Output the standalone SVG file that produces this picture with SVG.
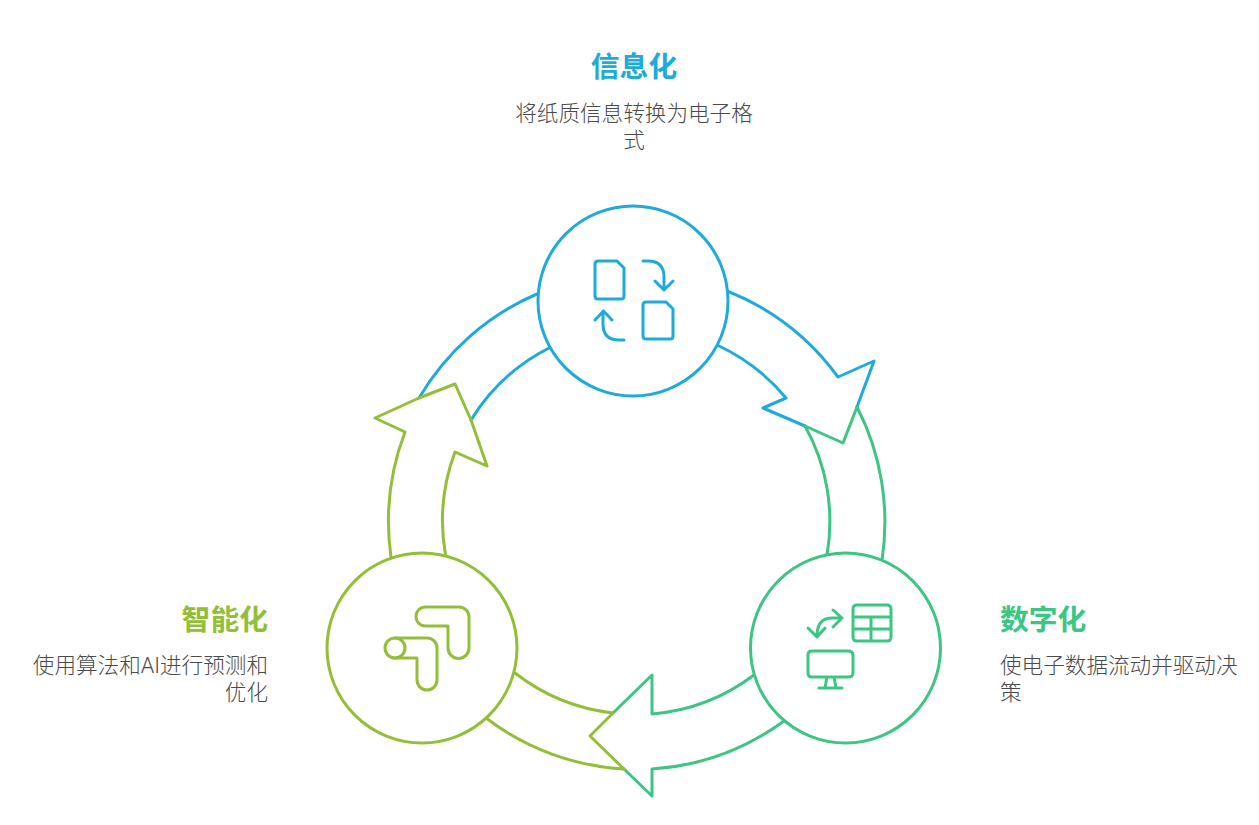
<svg xmlns="http://www.w3.org/2000/svg" width="1259" height="825" viewBox="0 0 1259 825">
<style>
.s{fill:none;stroke-width:3;stroke-linejoin:round;stroke-linecap:round}
.f{fill:#fff;stroke-width:3;stroke-linejoin:round;stroke-linecap:round}
.b{stroke:#1eabda}.g{stroke:#3cc583}.l{stroke:#93bf38}
.t{font-family:"Noto Sans CJK SC","Noto Sans",sans-serif;font-weight:700;font-size:28.8px}
.d{font-family:Roboto,"Noto Sans CJK SC",sans-serif;font-weight:300;font-size:21.6px;fill:#4a4a4a}
</style>
<rect width="1259" height="825" fill="#fff"/>
<g id="connectors">
<path class="s g" d="M857 407A251 251 0 0 1 882 560M805 426A196 196 0 0 1 827 555"/>
<path class="s l" d="M515 673A196 196 0 0 0 613 713M486 718A251 251 0 0 0 624 769"/>
<path class="s b" d="M537 294A251 251 0 0 0 419 398M549 348A196 196 0 0 0 471 420"/>
<path class="s b" d="M727 291A251 251 0 0 1 838 377L874 361L857 407M805 426L763 408L786 398A196 196 0 0 0 717 345"/>
<path class="s g" d="M857 407L843 443L805 426"/>
<path class="s g" d="M754 675A196 196 0 0 1 652 714V675L613 713M624 769L652 796V769A251 251 0 0 0 784 721"/>
<path class="s l" d="M613 713L590 736L624 769"/>
<path class="s l" d="M419 398L455 384L471 420L487 466L455 452A196 196 0 0 0 445.500 555M391 557A251 251 0 0 1 405 432L375 418L419 398"/>
</g>
<g id="node-info">
<circle class="f b" cx="633" cy="301" r="95"/>
<path class="s b" d="M598 261H617L624 268V296Q624 299 621 299H598Q595 299 595 296V264Q595 261 598 261ZM646 302H666L673 309V336Q673 339 670 339H646Q643 339 643 336V305Q643 302 646 302ZM643 261H648Q664 261 664 277V290M655 281L664 290L673 281M624 340H619Q603 340 603 324V311M595 320L603.500 311L612 320"/>
<text class="t" x="634" y="77" text-anchor="middle" style="fill:#1eabda">信息化</text>
<text class="d" x="634" y="121" text-anchor="middle">将纸质信息转换为电子格</text>
<text class="d" x="634" y="148" text-anchor="middle">式</text>
</g>
<g id="node-digital">
<circle class="f g" cx="845.500" cy="648" r="95"/>
<path class="s g" d="M857 605H887Q891 605 891 609V637Q891 641 887 641H857Q853 641 853 637V609Q853 605 857 605ZM853 617H891M853 629H891M871 617V641M833 610L842 618L833 627M842 618H832Q817 618 817 636M808 628L817 637L825 628"/>
<path class="s g" d="M812 651H848Q853 651 853 655V673Q853 677 848 677H812Q808 677 808 673V655Q808 651 812 651ZM827 677L825 688M834 677L836 688M819 688H842"/>
<text class="t" x="1000" y="630" style="fill:#3cc583">数字化</text>
<text class="d" x="1000" y="673">使电子数据流动并驱动决</text>
<text class="d" x="1000" y="700">策</text>
</g>
<g id="node-intelligent">
<circle class="f l" cx="422" cy="648" r="95"/>
<path class="s l" d="M425.500 607H459A10 10 0 0 1 469 617V648A10.500 10.500 0 0 1 448 648V626H425.500A9.500 9.500 0 0 1 425.500 607Z"/>
<path class="s l" d="M395 638H427A10 10 0 0 1 437 648V680A10 10 0 0 1 417 680V658H395"/>
<circle class="s l" cx="395" cy="648" r="10"/>
<text class="t" x="268" y="630" text-anchor="end" style="fill:#93bf38">智能化</text>
<text class="d" x="268" y="673" text-anchor="end">使用算法和AI进行预测和</text>
<text class="d" x="268" y="700" text-anchor="end">优化</text>
</g>
</svg>
